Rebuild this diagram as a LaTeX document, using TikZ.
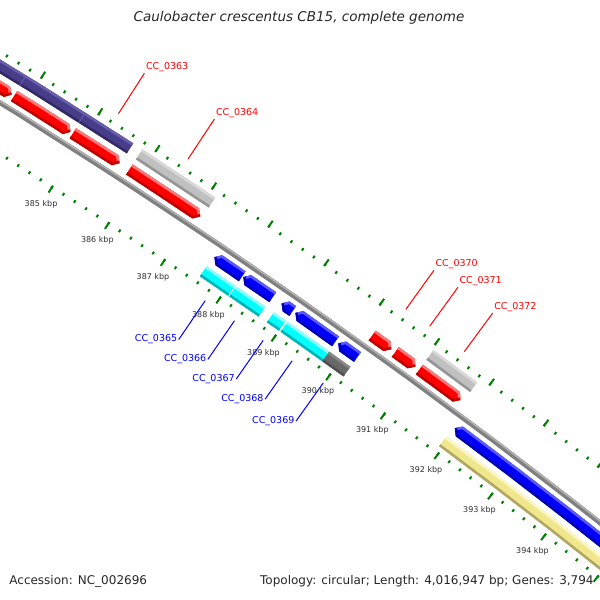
\documentclass[tikz,border=0pt]{standalone}
\usepackage{fontspec}
\setmainfont{DejaVu Sans}
\definecolor{fcds}{RGB}{255,0,0}
\definecolor{fcdslight}{RGB}{255,120,120}
\definecolor{fcdsdark}{RGB}{190,0,0}
\definecolor{fgene}{RGB}{192,192,192}
\definecolor{fgenelight}{RGB}{216,216,216}
\definecolor{fgenedark}{RGB}{150,150,150}
\definecolor{pgene}{RGB}{72,61,139}
\definecolor{pgenelight}{RGB}{104,94,170}
\definecolor{pgenedark}{RGB}{50,42,100}
\definecolor{rcds}{RGB}{0,0,250}
\definecolor{rcdslight}{RGB}{90,90,255}
\definecolor{rcdsdark}{RGB}{0,0,180}
\definecolor{rgene}{RGB}{0,255,255}
\definecolor{rgenelight}{RGB}{140,255,255}
\definecolor{rgenedark}{RGB}{0,180,180}
\definecolor{dgene}{RGB}{105,105,105}
\definecolor{dgenelight}{RGB}{135,135,135}
\definecolor{dgenedark}{RGB}{80,80,80}
\definecolor{kgene}{RGB}{240,230,140}
\definecolor{kgenelight}{RGB}{250,246,195}
\definecolor{kgenedark}{RGB}{175,165,100}
\definecolor{tickgreen}{RGB}{0,128,0}

% #1 start kbp, #2 end kbp, #3 inner radius of the ring, #4 colour
\newcommand\boxfeat[4]{%
  \begin{scope}
    \clip ({gang(#1)}:{#3+12}) -- plot[domain=#1:#2, samples=6] ({gang(\x)}:{#3+12}) -- ({gang(#2)}:{#3+12})
      -- ({gang(#2)}:{#3}) -- plot[domain=#2:#1, samples=6] ({gang(\x)}:{#3}) -- ({gang(#1)}:{#3}) -- cycle;
    \draw[#4, line width=10pt] ({gang(#1-0.2)}:{#3+6}) -- ({gang(#2+0.2)}:{#3+6});
    \draw[#4light, line width=2.5pt] plot[domain=#1-0.1:#2+0.1, samples=6] ({gang(\x)}:{#3+12});
    \draw[#4dark, line width=2.5pt] plot[domain=#1-0.1:#2+0.1, samples=6] ({gang(\x)}:{#3});
  \end{scope}}
\newcommand\fwdfeat[4]{%
  \begin{scope}
    \clip ({gang(#1)}:{#3+12}) -- plot[domain=#1:#2-0.08, samples=6] ({gang(\x)}:{#3+12}) -- ({gang(#2-0.08)}:{#3+12})
      -- ({gang(#2)}:{#3+6}) -- ({gang(#2-0.08)}:{#3}) -- plot[domain=#2-0.08:#1, samples=6] ({gang(\x)}:{#3}) -- ({gang(#1)}:{#3}) -- cycle;
    \draw[#4, line width=10pt] ({gang(#1-0.2)}:{#3+6}) -- ({gang(#2+0.2)}:{#3+6});
    \draw[#4light, line width=2.5pt] plot[domain=#1-0.1:#2-0.08, samples=6] ({gang(\x)}:{#3+12}) -- ({gang(#2)}:{#3+6});
    \draw[#4dark, line width=2.5pt] plot[domain=#1-0.1:#2-0.08, samples=6] ({gang(\x)}:{#3}) -- ({gang(#2)}:{#3+6});
  \end{scope}}
\newcommand\revfeat[4]{%
  \begin{scope}
    \clip ({gang(#1)}:{#3+6}) -- ({gang(#1+0.08)}:{#3+12}) -- plot[domain=#1+0.08:#2, samples=6] ({gang(\x)}:{#3+12}) -- ({gang(#2)}:{#3+12})
      -- ({gang(#2)}:{#3}) -- plot[domain=#2:#1+0.08, samples=6] ({gang(\x)}:{#3}) -- ({gang(#1+0.08)}:{#3}) -- cycle;
    \draw[#4, line width=10pt] ({gang(#1-0.2)}:{#3+6}) -- ({gang(#2+0.2)}:{#3+6});
    \draw[#4light, line width=2.5pt] ({gang(#1)}:{#3+6}) -- plot[domain=#1+0.08:#2+0.1, samples=6] ({gang(\x)}:{#3+12});
    \draw[#4dark, line width=2.5pt] ({gang(#1)}:{#3+6}) -- plot[domain=#1+0.08:#2+0.1, samples=6] ({gang(\x)}:{#3});
  \end{scope}}

\begin{document}
\begin{tikzpicture}
    [ x=0.5pt, y=-0.5pt
    , declare function={gang(\p)=0.587*\p-283.415;}
    , kbtick/.style={draw=tickgreen, line width=1pt}
    , kbplbl/.style={font=\fontsize{4}{5}\selectfont, text=black!82, inner sep=0pt}
    , cdslbl/.style={font=\fontsize{4.75}{5.5}\selectfont, text=red, inner sep=0.6pt}
    , rcdslbl/.style={font=\fontsize{4.75}{5.5}\selectfont, text=blue, inner sep=0.6pt}
    , backbone/.style={draw=black!50, line width=2.5pt}
    , seam/.style={line width=0.4pt}
    ]
\useasboundingbox (0,0) rectangle (600,600);
\clip (0,0) rectangle (600,600);
\node[font=\fontsize{6.75}{8}\selectfont\itshape, text=black!85] (title) at (299,18) {Caulobacter crescentus CB15, complete genome};
\node[font=\fontsize{6}{7}\selectfont, text=black!85, anchor=west, inner sep=0pt] (acc) at (9,581) {Accession: NC\_002696};
\node[font=\fontsize{6}{7}\selectfont, text=black!85, anchor=east, inner sep=0pt] (topo) at (594,581) {Topology: circular; Length: 4,016,947 bp; Genes: 3,794};
\begin{scope}[shift={(-3473,5703)}]
\draw[backbone] plot[domain=381:397, samples=33] ({gang(\x)}:6590);
\draw[draw=black!30, line width=0.75pt] plot[domain=381:397, samples=33] ({gang(\x)}:6591.5);
\foreach \i in {1910,...,1985} {
    \draw[kbtick] ({gang(\i/5)}:6632) -- ({gang(\i/5)}:6635);
    \draw[kbtick] ({gang(\i/5)}:6545) -- ({gang(\i/5)}:6548);
}
\foreach \k in {382,...,397} {
    \draw[kbtick] ({gang(\k)}:6632) -- ({gang(\k)}:6640);
    \draw[kbtick] ({gang(\k)}:6540) -- ({gang(\k)}:6548);
}
\foreach \k in {385,...,394}
    \node[kbplbl] (k\k) at ({gang(\k)}:6526) {\k\ kbp};
% outer genes
\boxfeat{382.5}{383.79}{6615}{pgene}
\boxfeat{383.79}{384.82}{6615}{pgene}
\boxfeat{384.82}{385.66}{6615}{pgene}
\draw[seam, pgenelight] ({gang(383.79)}:6615) -- ({gang(383.79)}:6627);
\draw[seam, pgenelight] ({gang(384.82)}:6615) -- ({gang(384.82)}:6627);
\boxfeat{385.82}{387.11}{6615}{fgene}
\boxfeat{391.03}{391.83}{6615}{fgene}
% forward CDS
\fwdfeat{382.5}{383.76}{6597}{fcds}
\fwdfeat{383.80}{384.79}{6597}{fcds}
\fwdfeat{384.83}{385.65}{6597}{fcds}
\fwdfeat{385.82}{387.08}{6597}{fcds}
\fwdfeat{390.17}{390.52}{6597}{fcds}
\fwdfeat{390.59}{390.96}{6597}{fcds}
\fwdfeat{391.03}{391.79}{6597}{fcds}
% reverse CDS
\revfeat{387.59}{388.09}{6571}{rcds}
\revfeat{388.11}{388.64}{6571}{rcds}
\revfeat{388.80}{389.00}{6571}{rcds}
\revfeat{389.05}{389.78}{6571}{rcds}
\revfeat{389.83}{390.18}{6571}{rcds}
\revfeat{391.97}{397}{6571}{rcds}
% inner genes
\boxfeat{387.57}{388.09}{6553}{rgene}
\boxfeat{388.09}{388.63}{6553}{rgene}
\draw[seam, white] ({gang(388.09)}:6553) -- ({gang(388.09)}:6565);
\boxfeat{388.78}{389.00}{6553}{rgene}
\boxfeat{389.03}{389.79}{6553}{rgene}
\boxfeat{389.79}{390.18}{6553}{dgene}
\boxfeat{391.94}{397}{6553}{kgene}
\foreach \p/\n in {385.24/363, 386.46/364, 390.35/370, 390.78/371, 391.41/372} {
    \coordinate (c\n) at ({gang(\p)}:6644);
    \node[cdslbl, anchor=south west] (l\n) at ({gang(\p)}:6692) {CC\_0\n};
    \draw[red, line width=0.5pt] (c\n) -- (l\n.south west);
}
\foreach \p/\n in {387.84/365, 388.37/366, 388.89/367, 389.42/368, 389.99/369} {
    \coordinate (c\n) at ({gang(\p)}:6536);
    \node[rcdslbl, anchor=east] (l\n) at ({gang(\p)}:6489) {CC\_0\n};
    \draw[blue, line width=0.5pt] (c\n) -- (l\n.east);
}
\end{scope}
\end{tikzpicture}
\end{document}
